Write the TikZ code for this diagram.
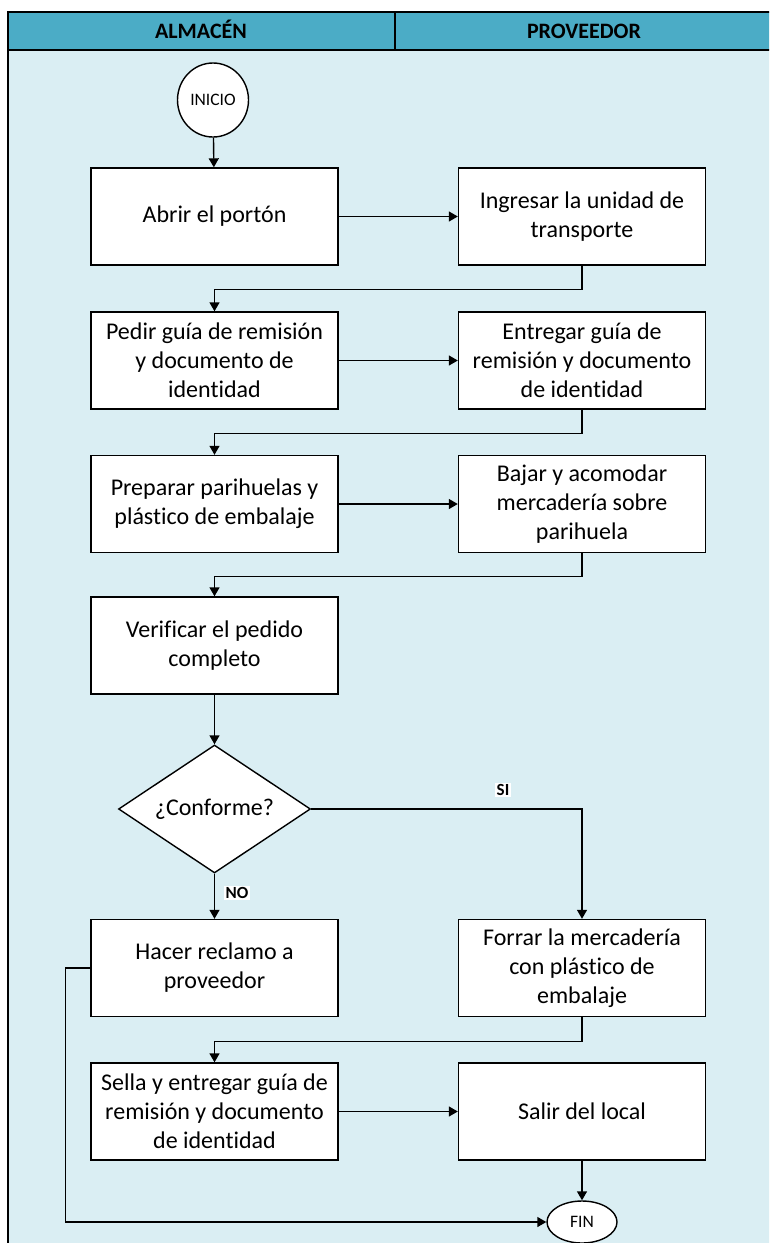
\documentclass[tikz,border=0pt]{standalone}
\usepackage{fontspec}
\setmainfont{Carlito}[Ligatures=NoCommon]
\usetikzlibrary{shapes.geometric,arrows.meta}
\definecolor{hdr}{RGB}{75,172,198}
\definecolor{lane}{RGB}{218,238,243}
\begin{document}
\begin{tikzpicture}[x=1pt,y=-1pt,
  stepbox/.style={draw, fill=white, line width=1.4pt, minimum width=247pt, minimum height=97pt, inner sep=0pt, align=center, font=\fontsize{24}{29}\selectfont},
  decbox/.style={draw, fill=white, line width=1.4pt, diamond, shape aspect=1.5, minimum width=192pt, minimum height=128pt, inner sep=0pt, font=\fontsize{24}{29}\selectfont},
  term/.style={draw, fill=white, line width=1.4pt, ellipse, inner sep=0pt, font=\fontsize{17.5}{19}\selectfont},
  conn/.style={line width=1.4pt, -{Triangle[length=9pt,width=10pt]}},
  lbl/.style={fill=white, inner sep=1.5pt, font=\bfseries\fontsize{17}{19}\selectfont},
  hdrtext/.style={anchor=base, font=\bfseries\fontsize{22}{24}\selectfont}]
\useasboundingbox (0,0) rectangle (769,1243);
\clip (0,0) rectangle (769,1243);
% lanes
\fill[lane] (8,50) rectangle (790,1260);
\fill[hdr] (8,12) rectangle (790,50);
\draw[line width=1.6pt] (8,1260) -- (8,12) -- (790,12);
\draw[line width=1.6pt] (8,50) -- (790,50);
\draw[line width=1.4pt] (395,12) -- (395,50);
\node[hdrtext] (hA) at (201,38.5) {ALMACÉN};
\node[hdrtext] (hP) at (584,38.5) {PROVEEDOR};
% nodes
\node[term, minimum width=71pt, minimum height=74pt] (inicio) at (213,100) {INICIO};
\node[stepbox] (b1) at (214.5,216.5) {Abrir el portón};
\node[stepbox] (b2) at (582,216.5) {Ingresar la unidad de\\transporte};
\node[stepbox] (b3) at (214.5,360.5) {Pedir guía de remisión\\y documento de\\identidad};
\node[stepbox] (b4) at (582,360.5) {Entregar guía de\\remisión y documento\\de identidad};
\node[stepbox] (b5) at (214.5,504) {Preparar parihuelas y\\plástico de embalaje};
\node[stepbox] (b6) at (582,504) {Bajar y acomodar\\mercadería sobre\\parihuela};
\node[stepbox] (b7) at (214.5,645.5) {Verificar el pedido\\completo};
\node[decbox] (dec) at (214.5,809) {¿Conforme?};
\node[stepbox] (hacer) at (214.5,968) {Hacer reclamo a\\proveedor};
\node[stepbox] (forrar) at (582,968) {Forrar la mercadería\\con plástico de\\embalaje};
\node[stepbox] (sella) at (214.5,1111.5) {Sella y entregar guía de\\remisión y documento\\de identidad};
\node[stepbox] (salir) at (582,1111.5) {Salir del local};
\node[term, minimum width=70pt, minimum height=42pt] (fin) at (582,1222) {FIN};
% connectors
\draw[conn] (inicio) -- (b1);
\draw[conn] (b1) -- (b2);
\draw[conn] (b2.south) -- ++(0,24) -| (b3.north);
\draw[conn] (b3) -- (b4);
\draw[conn] (b4.south) -- ++(0,24) -| (b5.north);
\draw[conn] (b5) -- (b6);
\draw[conn] (b6.south) -- ++(0,23) -| (b7.north);
\draw[conn] (b7) -- (dec);
\draw[conn] (dec.east) -| (forrar.north);
\draw[conn] (dec.south) -- (hacer.north);
\draw[conn] (forrar.south) -- ++(0,24) -| (sella.north);
\draw[conn] (sella) -- (salir);
\draw[conn] (salir) -- (fin);
\draw[conn] (hacer.west) -- ++(-25,0) |- (fin.west);
\node[lbl] (si) at (503,790) {SI};
\node[lbl] (no) at (237,893) {NO};
\end{tikzpicture}
\end{document}
